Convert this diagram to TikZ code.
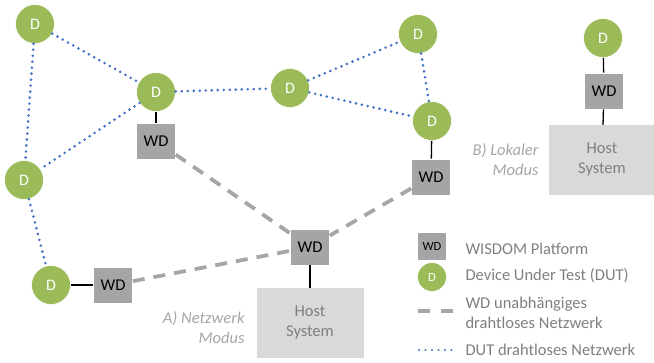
\documentclass[tikz,border=0pt]{standalone}
\usepackage{fontspec}
\setmainfont{Carlito}
\definecolor{dutgreen}{HTML}{9BBB59}
\definecolor{wdgray}{HTML}{A5A5A5}
\definecolor{hostgray}{HTML}{D9D9D9}
\definecolor{dutblue}{HTML}{4472C4}
\definecolor{lblgray}{HTML}{A6A6A6}
\definecolor{txtgray}{HTML}{7F7F7F}
\begin{document}
\begin{tikzpicture}[x=1pt,y=-1pt,
  dut/.style={circle,fill=dutgreen,draw=white,line width=0.6pt,minimum size=39pt,inner sep=0pt,text=white,font=\fontsize{16}{18}\selectfont},
  wd/.style={rectangle,fill=wdgray,draw=white,line width=0.6pt,minimum width=39pt,minimum height=36pt,inner sep=0pt,font=\fontsize{16.5}{18}\selectfont},
  host/.style={rectangle,fill=hostgray,minimum width=107pt,minimum height=70pt,inner sep=0pt,text=txtgray,align=center,font=\fontsize{16.5}{20}\selectfont},
  dutlink/.style={dutblue,line width=2.9pt,line cap=round,dash pattern=on 0pt off 6pt},
  wdlink/.style={lblgray,line width=3.8pt,dash pattern=on 12pt off 9pt},
  wire/.style={black,line width=1.3pt},
  modelabel/.style={text=lblgray,align=right,anchor=east,font=\fontsize{16.5}{20}\selectfont\itshape},
  legtext/.style={text=txtgray,anchor=west,align=left,font=\fontsize{16.5}{20}\selectfont}
]
\useasboundingbox (0,0) rectangle (654,363);

% network mode: devices under test
\node[dut] (d1) at (35,24) {D};
\node[dut] (d2) at (156,92) {D};
\node[dut] (d3) at (290,88) {D};
\node[dut] (d4) at (24,180) {D};
\node[dut] (d5) at (51,285) {D};
\node[dut] (d6) at (418,34) {D};
\node[dut] (d7) at (432,121) {D};

% WISDOM platforms
\node[wd] (w1) at (156,141) {WD};
\node[wd] (w2) at (431,177) {WD};
\node[wd] (w3) at (310,247) {WD};
\node[wd] (w4) at (113,285) {WD};

\node[host] (hA) at (310,323) {Host\\System};

% DUT wireless network
\draw[dutlink] (d1) -- (d2);
\draw[dutlink] (d1) -- (d4);
\draw[dutlink] (d2) -- (d4);
\draw[dutlink] (d2) -- (d3);
\draw[dutlink] (d3) -- (d6);
\draw[dutlink] (d3) -- (d7);
\draw[dutlink] (d6) -- (d7);
\draw[dutlink] (d4) -- (d5);

% WD independent wireless network
\draw[wdlink] (w1) -- (w3);
\draw[wdlink] (w2) -- (w3);
\draw[wdlink] (w4) -- (w3);

% wired connections
\draw[wire] (d2) -- (w1);
\draw[wire] (d7) -- (w2);
\draw[wire] (d5) -- (w4);
\draw[wire] (w3) -- (hA);

\node[modelabel] (lA) at (248,328) {A) Netzwerk\\Modus};

% local mode
\node[dut] (d8) at (603,38) {D};
\node[wd] (w5) at (604,91) {WD};
\node[host] (hB) at (602,160) {Host\\System};
\draw[wire] (d8) -- (w5);
\draw[wire] (w5) -- (hB);
\node[modelabel] (lB) at (542,160) {B) Lokaler\\Modus};

% legend
\node[wd,minimum width=29pt,minimum height=28pt,font=\fontsize{12.5}{14}\selectfont] (lgw) at (432,246) {WD};
\node[dut,minimum size=29pt,font=\fontsize{12.5}{14}\selectfont] (lgd) at (432,277) {D};
\coordinate (lga1) at (418,311);
\coordinate (lga2) at (455,311);
\draw[wdlink,dash pattern=on 12pt off 11pt] (lga1) -- (lga2);
\coordinate (lgb1) at (419,350);
\coordinate (lgb2) at (455,350);
\draw[dutlink,line width=2.3pt,dash pattern=on 0pt off 6.5pt] (lgb1) -- (lgb2);
\node[legtext] (t1) at (462,249) {WISDOM Platform};
\node[legtext] (t2) at (462,276) {Device Under Test (DUT)};
\node[legtext] (t3) at (462,313) {WD unabhängiges\\drahtloses Netzwerk};
\node[legtext] (t4) at (462,350) {DUT drahtloses Netzwerk};
\end{tikzpicture}
\end{document}
